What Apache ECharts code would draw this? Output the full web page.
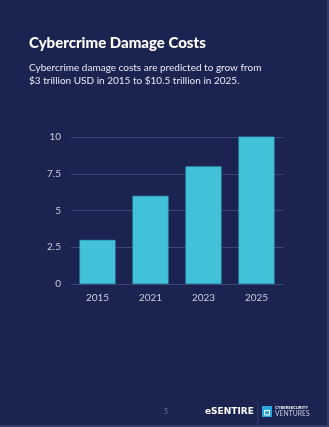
<!DOCTYPE html>
<html>
<head>
<meta charset="utf-8">
<script src="https://cdn.jsdelivr.net/npm/echarts@6/dist/echarts.min.js"></script>
<style>
  html, body { margin: 0; padding: 0; background: #1b2350; }
  #chart { width: 329px; height: 427px; }
</style>
</head>
<body>
<div id="chart"></div>
<script>
// Cybercrime damage costs, trillions of USD
const years = ['2015', '2021', '2023', '2025'];
const damageCosts = [3, 6, 8, 10.1];
const yTicks = [0, 2.5, 5, 7.5, 10];

const chart = echarts.init(document.getElementById('chart'), null, { renderer: 'canvas' });

const FONT = 'Lato, "Open Sans", sans-serif';

chart.setOption({
  backgroundColor: '#1b2350',
  animation: false,
  title: {
    text: 'Cybercrime Damage Costs',
    subtext: 'Cybercrime damage costs are predicted to grow from\n$3 trillion USD in 2015 to $10.5 trillion in 2025.',
    left: 29,
    top: 36,
    padding: 0,
    itemGap: 11,
    textStyle: { color: '#ffffff', fontFamily: FONT, fontWeight: 900, fontSize: 15 },
    subtextStyle: { color: '#e6e8f2', fontFamily: FONT, fontSize: 10, lineHeight: 12.5 }
  },
  grid: { left: 71, right: 46, top: 137, bottom: 143 },
  xAxis: {
    type: 'category',
    data: years,
    axisLine: { show: false },
    axisTick: { show: false },
    axisLabel: { color: '#c9ccdc', fontFamily: FONT, fontSize: 10, margin: 9 }
  },
  yAxis: {
    type: 'value',
    min: yTicks[0],
    max: yTicks[yTicks.length - 1],
    interval: yTicks[1] - yTicks[0],
    axisLine: { show: false },
    axisTick: { show: false },
    axisLabel: { color: '#c9ccdc', fontFamily: FONT, fontSize: 10, margin: 10 },
    splitLine: { lineStyle: { color: '#3c4573', width: 1 } }
  },
  series: [{
    type: 'bar',
    data: damageCosts,
    barWidth: 36,
    itemStyle: { color: '#41c2d9', borderColor: '#3aaecb', borderWidth: 0.8 }
  }],
  graphic: [
    // right and bottom page edges
    { type: 'rect', shape: { x: 327, y: 0, width: 2, height: 427 }, style: { fill: '#343c6a' } },
    { type: 'rect', shape: { x: 0, y: 425, width: 329, height: 2 }, style: { fill: '#343c6a' } },
    // page number
    { type: 'text', x: 164, y: 408, style: { text: '5', fill: '#6e759e', fontSize: 7, fontFamily: FONT } },
    // footer logos
    { type: 'text', x: 205, y: 407, style: { text: 'eSENTIRE', fill: '#ffffff', fontSize: 9, fontWeight: 'bold', fontFamily: '"DejaVu Sans", sans-serif' } },
    { type: 'rect', shape: { x: 257.5, y: 400, width: 0.8, height: 26 }, style: { fill: '#3a4272' } },
    { type: 'rect', shape: { x: 262, y: 406, width: 10, height: 11 }, style: { fill: '#2aa7e0' } },
    { type: 'rect', shape: { x: 264.5, y: 410.5, width: 5, height: 4.5 }, style: { fill: 'none', stroke: '#ffffff', lineWidth: 1 } },
    { type: 'text', x: 275, y: 406, style: { text: 'CYBERSECURITY', fill: '#ffffff', fontSize: 4.2, fontWeight: 'bold', fontFamily: FONT } },
    { type: 'text', x: 275, y: 410.5, style: { text: 'VENTURES', fill: '#c6cae0', fontSize: 6.8, fontFamily: FONT } }
  ]
});
</script>
</body>
</html>
